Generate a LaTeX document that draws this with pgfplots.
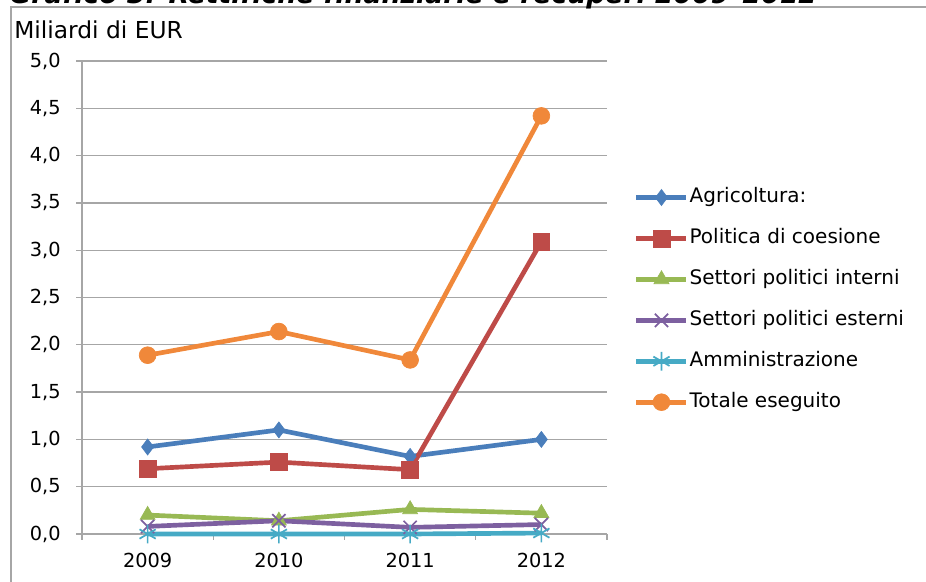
\documentclass[border=0pt]{standalone}
\usepackage{pgfplots}
\pgfplotsset{compat=1.18}
\usepackage{pgfplotstable}
\usepackage{fontspec}
\setmainfont{DejaVu Sans}
\definecolor{cA}{HTML}{4A7EBB}
\definecolor{cB}{HTML}{BE4B48}
\definecolor{cC}{HTML}{98B954}
\definecolor{cD}{HTML}{7D60A0}
\definecolor{cE}{HTML}{46AAC5}
\definecolor{cF}{HTML}{F0883A}
\definecolor{gridgrey}{HTML}{A6A6A6}
\pgfplotstableread{
x agri coes inter ester amm tot
0 0.92 0.69 0.20 0.08 0.00 1.89
1 1.10 0.76 0.14 0.14 0.00 2.14
2 0.82 0.68 0.26 0.07 0.00 1.84
3 1.00 3.09 0.22 0.10 0.01 4.42
}\datatable
\begin{document}
\begin{tikzpicture}
\useasboundingbox (0,0) rectangle (694.5pt,436.5pt);
% outer chart frame
\draw[gridgrey, line width=1.2pt] (8.25pt,-20pt) -- (8.25pt,431.25pt) -- (720pt,431.25pt);
% cut-off title
\node[anchor=base west, inner sep=0pt, font=\fontsize{20pt}{24pt}\selectfont\bfseries\itshape] at (7pt,433.5pt) {Grafico 3: Rettifiche finanziarie e recuperi 2009–2012};
\node[anchor=west, inner sep=0pt, font=\fontsize{17.5pt}{20pt}\selectfont] at (10.5pt,414pt) {Miliardi di EUR};
\begin{axis}[
  at={(61.5pt,36pt)}, anchor=south west,
  scale only axis, width=393.75pt, height=354.75pt,
  xmin=-0.5, xmax=3.5, ymin=0, ymax=5,
  axis x line*=bottom, axis y line*=left,
  axis line style={gridgrey, line width=1pt},
  xtick={-0.5,0.5,1.5,2.5,3.5},
  xticklabels={2009,2010,2011,2012},
  x tick label as interval,
  ytick={0,0.5,...,5},
  yticklabel={\pgfmathprintnumber[fixed,fixed zerofill,precision=1,use comma]{\tick}},
  /pgf/number format/assume math mode=true,
  tick align=outside, major tick length=4.5pt,
  tick style={gridgrey, line width=1pt},
  ymajorgrids, grid style={gridgrey, line width=1pt},
  ticklabel style={font=\fontsize{14.5pt}{17pt}\selectfont},
  yticklabel style={xshift=-8pt},
  xticklabel style={yshift=-6pt},
  clip=false,
  legend style={draw=none, fill=none, at={(1.0436,0.739)}, anchor=north west,
    font=\fontsize{15pt}{18pt}\selectfont, row sep=15.5pt,
    nodes={inner sep=0.6pt, text height=11pt, text depth=3pt}},
  legend cell align=left,
  legend image code/.code={\draw[mark repeat=2,mark phase=2] plot coordinates {(0pt,0pt) (18.75pt,0pt) (37.5pt,0pt)};},
  every axis plot/.append style={line width=3.5pt},
]
\addplot[cA, mark=diamond*, mark size=6pt, mark options={solid, line width=0.5pt, fill=cA}] table[x=x,y=agri] {\datatable};
\addlegendentry{Agricoltura:}
\addplot[cB, mark=square*, mark size=6.3pt, mark options={solid, line width=0.5pt, fill=cB}] table[x=x,y=coes] {\datatable};
\addlegendentry{Politica di coesione}
\addplot[cC, mark=triangle*, mark size=6.5pt, mark options={solid, line width=0.5pt, fill=cC}] table[x=x,y=inter] {\datatable};
\addlegendentry{Settori politici interni}
\addplot[cD, mark=x, mark size=7pt, mark options={solid, line width=1.3pt}] table[x=x,y=ester] {\datatable};
\addlegendentry{Settori politici esterni}
\addplot[cE, mark=asterisk, mark size=7pt, mark options={solid, line width=1.3pt}] table[x=x,y=amm] {\datatable};
\addlegendentry{Amministrazione}
\addplot[cF, mark=*, mark size=6.3pt, mark options={solid, line width=0.5pt, fill=cF}] table[x=x,y=tot] {\datatable};
\addlegendentry{Totale eseguito}
\end{axis}
\end{tikzpicture}
\end{document}
